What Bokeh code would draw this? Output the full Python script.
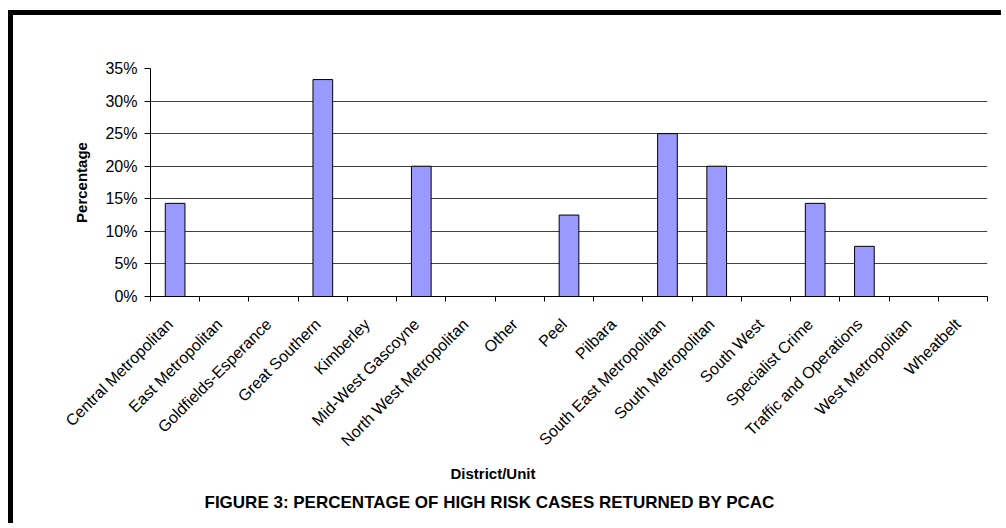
import math
from bokeh.plotting import figure
from bokeh.models import (Range1d, FixedTicker, NumeralTickFormatter, Title,
                          ColumnDataSource)
from bokeh.embed import file_html
from bokeh.resources import INLINE

# ---- data ----
categories = ["Central Metropolitan", "East Metropolitan", "Goldfields-Esperance",
              "Great Southern", "Kimberley", "Mid-West Gascoyne",
              "North West Metropolitan", "Other", "Peel", "Pilbara",
              "South East Metropolitan", "South Metropolitan", "South West",
              "Specialist Crime", "Traffic and Operations", "West Metropolitan",
              "Wheatbelt"]
percentages = [0.143, 0.0, 0.0, 0.333, 0.0, 0.20, 0.0, 0.0, 0.125, 0.0,
               0.25, 0.20, 0.0, 0.143, 0.077, 0.0, 0.0]
y_ticks = [0.0, 0.05, 0.10, 0.15, 0.20, 0.25, 0.30, 0.35]
x_title = "District/Unit"
y_title = "Percentage"
fig_title = "FIGURE 3: PERCENTAGE OF HIGH RISK CASES RETURNED BY PCAC"

FONT = "Liberation Sans"

n = len(categories)
centers = [i + 0.5 for i in range(n)]
bounds = [float(i) for i in range(n + 1)]
label_pos = [c - 0.1 for c in centers]   # label anchor slightly left of bar centre

src = ColumnDataSource(dict(
    x=[c for c, v in zip(centers, percentages) if v > 0],
    top=[v for v in percentages if v > 0],
))

# canvas sits inside a thick black top/left border
p = figure(width=993, height=513, output_backend="svg", toolbar_location=None,
           x_range=Range1d(0, n), y_range=Range1d(0, 0.35),
           min_border_left=137, min_border_right=19,
           min_border_top=53, min_border_bottom=232)
p.styles = {"border-top": "5px solid black", "border-left": "5px solid black",
            "margin-top": "10px", "margin-left": "8px"}
p.outline_line_color = None
p.background_fill_color = "white"
p.border_fill_color = "white"

p.vbar(x="x", top="top", bottom=0, width=0.4, source=src,
       fill_color="#9999FF", line_color="black", line_width=1)

# grid
p.xgrid.visible = False
p.ygrid.ticker = FixedTicker(ticks=y_ticks)
p.ygrid.grid_line_color = "#404040"
p.ygrid.grid_line_width = 1

# y axis
ya = p.yaxis[0]
ya.ticker = FixedTicker(ticks=y_ticks)
ya.formatter = NumeralTickFormatter(format="0%")
ya.major_tick_out = 6
ya.major_tick_in = 0
ya.minor_tick_line_color = None
ya.major_label_standoff = 7
ya.major_label_text_font = FONT
ya.major_label_text_font_size = "16px"
ya.major_label_text_color = "black"
ya.axis_line_color = "black"
ya.major_tick_line_color = "black"
ya.axis_label = y_title
ya.axis_label_text_font = FONT
ya.axis_label_text_font_size = "15px"
ya.axis_label_text_font_style = "bold"
ya.axis_label_text_color = "black"
ya.axis_label_standoff = 12

# x axis
xa = p.xaxis[0]
xa.ticker = FixedTicker(ticks=label_pos, minor_ticks=bounds)
xa.major_label_overrides = {c: name for c, name in zip(label_pos, categories)}
xa.major_tick_out = 0
xa.major_tick_in = 0
xa.major_tick_line_color = None
xa.minor_tick_out = 5
xa.minor_tick_in = 0
xa.minor_tick_line_color = "black"
xa.axis_line_color = "black"
xa.major_label_orientation = math.pi / 4
xa.major_label_standoff = 20
xa.major_label_text_font = FONT
xa.major_label_text_font_size = "16px"
xa.major_label_text_color = "black"

# x title and figure title, centred on the chart box
p.add_layout(Title(text=x_title, align="left", offset=300, standoff=8,
                   text_font=FONT, text_font_size="15px", text_font_style="bold",
                   text_color="black"), "below")
p.add_layout(Title(text=fig_title, align="left", offset=54, standoff=11,
                   text_font=FONT, text_font_size="17px", text_font_style="bold",
                   text_color="black"), "below")

open("out.html", "w").write(file_html(p, INLINE))
